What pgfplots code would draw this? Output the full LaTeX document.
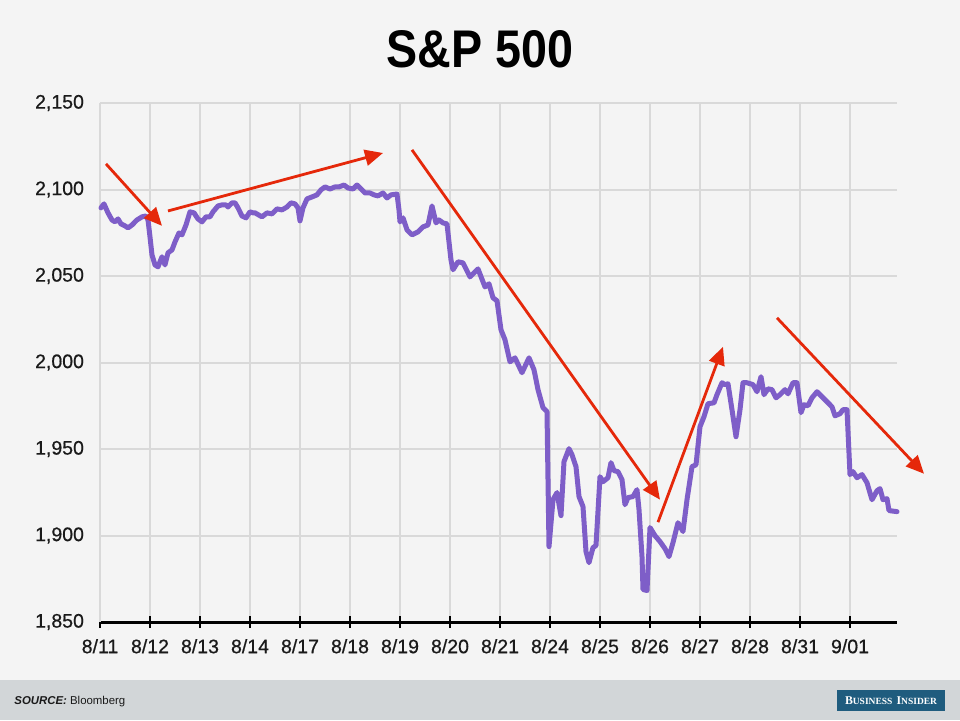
\documentclass[border=0pt]{standalone}
\usepackage{fontspec}
\setmainfont{Liberation Sans}
\newfontfamily\seriffont{Liberation Serif}
\newfontfamily\tickfont[FakeBold=0.6]{Liberation Sans}
\usepackage{graphicx}
\usepackage{pgfplots}
\pgfplotsset{compat=1.18}
\usetikzlibrary{arrows.meta}
\definecolor{bg}{HTML}{F4F4F4}
\definecolor{footc}{HTML}{D2D6D8}
\definecolor{logoc}{HTML}{1F5C7E}
\definecolor{gridc}{HTML}{D9D9D9}
\definecolor{labelc}{HTML}{1A1A1A}
\definecolor{linec}{HTML}{7E5EC8}
\definecolor{arrowc}{HTML}{E5280A}
\begin{document}
\begin{tikzpicture}
\fill[bg] (-50pt,-49pt) rectangle (430pt,311pt);
\fill[footc] (-50pt,-49pt) rectangle (430pt,-29pt);
\begin{axis}[
  at={(0pt,0pt)}, anchor=south west,
  scale only axis, width=398.5pt, height=259.5pt,
  xmin=0, xmax=15.94, ymin=1850, ymax=2150,
  xtick={0,...,15},
  xticklabels={8/11,8/12,8/13,8/14,8/17,8/18,8/19,8/20,8/21,8/24,8/25,8/26,8/27,8/28,8/31,9/01},
  ytick={1850,1900,...,2150},
  grid=major, major grid style={draw=gridc, line width=1pt},
  axis x line*=bottom, axis y line*=left,
  x axis line style={black, line width=1.5pt, -},
  y axis line style={gridc, line width=1pt, -},
  xtick style={black, line width=1pt},
  ytick style={draw=none},
  major tick length=6pt, tick align=center,
  ticklabel style={font=\tickfont\fontsize{9.75}{10}\selectfont, text=labelc},
  yticklabel style={anchor=east, xshift=-1.5pt},
  xticklabel style={anchor=north, yshift=-2pt},
  /pgf/number format/.cd, 1000 sep={,}, assume math mode=true,
  /pgfplots/.cd,
  clip=false,
]
\addplot[linec, line width=2.5pt, line join=round, line cap=round] table {
x y
0.02 2089.4
0.08 2091.7
0.16 2086.5
0.24 2082.4
0.30 2081.3
0.36 2083.0
0.42 2080.1
0.50 2079.0
0.56 2077.8
0.64 2079.5
0.74 2082.4
0.84 2084.2
0.92 2084.7
0.96 2082.4
1.00 2072.6
1.04 2062.2
1.10 2056.4
1.16 2055.3
1.24 2061.1
1.30 2056.4
1.36 2063.4
1.44 2065.1
1.50 2069.7
1.58 2074.9
1.64 2073.8
1.72 2079.5
1.80 2087.1
1.88 2086.5
1.96 2083.0
2.04 2081.3
2.12 2084.2
2.20 2084.2
2.26 2087.1
2.36 2090.5
2.44 2091.1
2.52 2091.1
2.56 2089.9
2.64 2092.3
2.70 2092.3
2.76 2089.4
2.84 2084.7
2.92 2083.6
3.00 2087.1
3.06 2086.5
3.10 2086.5
3.24 2084.2
3.34 2086.5
3.44 2085.9
3.54 2088.8
3.64 2088.2
3.74 2089.9
3.82 2092.3
3.90 2091.7
3.96 2089.4
4.00 2081.9
4.06 2089.4
4.14 2094.6
4.24 2095.7
4.34 2096.9
4.42 2099.8
4.50 2101.5
4.60 2100.3
4.70 2101.5
4.78 2101.5
4.88 2102.6
4.96 2100.9
5.06 2100.3
5.14 2102.6
5.24 2099.8
5.30 2098.0
5.40 2098.0
5.48 2096.9
5.56 2096.3
5.66 2098.0
5.74 2095.1
5.82 2096.9
5.94 2097.4
5.98 2088.2
6.00 2081.3
6.06 2083.6
6.14 2076.7
6.24 2073.8
6.36 2075.5
6.46 2078.4
6.56 2079.5
6.64 2090.5
6.72 2080.7
6.78 2082.4
6.86 2080.7
6.94 2080.1
7.02 2059.3
7.06 2053.6
7.16 2058.2
7.26 2057.6
7.40 2049.5
7.56 2054.1
7.70 2043.7
7.78 2045.5
7.86 2037.4
7.94 2035.7
8.02 2018.9
8.10 2013.1
8.20 2000.4
8.30 2002.7
8.44 1994.1
8.58 2002.7
8.68 1995.8
8.76 1984.3
8.86 1973.9
8.94 1971.6
8.98 1893.6
9.06 1920.7
9.14 1924.8
9.22 1911.5
9.28 1942.7
9.38 1950.2
9.44 1946.7
9.52 1939.8
9.58 1922.5
9.66 1916.7
9.72 1890.7
9.78 1884.3
9.86 1893.0
9.92 1894.2
10.00 1934.0
10.06 1931.1
10.16 1933.4
10.22 1942.1
10.28 1937.5
10.36 1936.9
10.44 1932.3
10.50 1917.8
10.56 1921.9
10.66 1922.5
10.74 1926.5
10.78 1915.0
10.84 1887.8
10.86 1868.8
10.94 1868.2
11.00 1904.6
11.10 1899.9
11.20 1896.5
11.30 1892.4
11.38 1887.8
11.46 1895.9
11.56 1907.4
11.66 1902.3
11.74 1920.7
11.84 1939.8
11.92 1940.9
12.00 1962.9
12.08 1968.7
12.16 1976.2
12.28 1976.7
12.34 1981.4
12.44 1988.3
12.50 1987.2
12.56 1987.7
12.64 1972.7
12.72 1957.1
12.80 1972.7
12.86 1988.3
12.94 1988.3
13.06 1987.2
13.14 1983.1
13.22 1991.8
13.28 1981.4
13.36 1984.8
13.44 1984.3
13.52 1979.6
13.60 1981.4
13.70 1984.3
13.76 1981.9
13.86 1988.3
13.94 1988.3
14.02 1971.0
14.08 1975.6
14.16 1975.0
14.24 1979.6
14.34 1983.1
14.44 1980.2
14.54 1977.3
14.64 1974.4
14.70 1969.2
14.80 1970.4
14.86 1972.7
14.94 1972.7
15.00 1935.2
15.06 1936.9
15.14 1933.4
15.24 1935.2
15.34 1930.5
15.44 1920.7
15.54 1925.9
15.60 1927.1
15.66 1920.7
15.74 1921.3
15.78 1914.4
15.94 1913.8
};
\pgfplotsset{arr/.style={arrowc, line width=1.4pt, -{Triangle[length=9pt,width=8pt]}}}
\addplot[arr] coordinates {(0.12,2114.8) (1.24,2079.0)};
\addplot[arr] coordinates {(1.36,2087.6) (5.66,2121.1)};
\addplot[arr] coordinates {(6.24,2122.9) (11.20,1920.7)};
\addplot[arr] coordinates {(11.16,1907.7) (12.46,2009.1)};
\addplot[arr] coordinates {(13.54,2025.8) (16.48,1935.7)};
\end{axis}
\node at (190pt,286.5pt) {\scalebox{0.88}[1]{\fontsize{26.5}{26.5}\selectfont\bfseries S\&P 500}};
\node[anchor=base west, inner sep=0pt, text=labelc] at (-43pt,-41pt) {\fontsize{5.7}{7}\selectfont\textbf{\textit{SOURCE:}} Bloomberg};
\node[fill=logoc, minimum width=54pt, minimum height=10.5pt, inner sep=0pt, text=white] at (395.5pt,-39.25pt) {\resizebox{46pt}{!}{\seriffont\bfseries{\fontsize{7}{7}\selectfont B}{\fontsize{5.6}{7}\selectfont USINESS} {\fontsize{7}{7}\selectfont I}{\fontsize{5.6}{7}\selectfont NSIDER}}};
\pgfresetboundingbox
\path[use as bounding box] (-50pt,-49pt) rectangle (430pt,311pt);
\end{tikzpicture}
\end{document}
